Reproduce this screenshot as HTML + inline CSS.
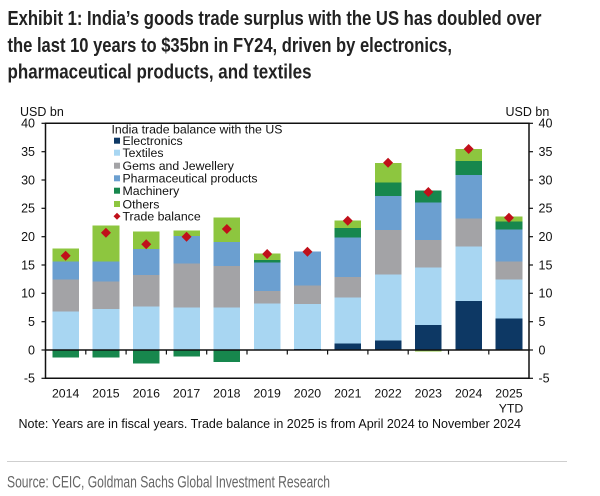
<!DOCTYPE html>
<html>
<head>
<meta charset="utf-8">
<style>
html,body{margin:0;padding:0;background:#fff;}
svg{display:block;}
text{font-family:"Liberation Sans",Arial,sans-serif;}
</style>
</head>
<body>
<svg width="600" height="496" viewBox="0 0 600 496" xmlns="http://www.w3.org/2000/svg">
<rect width="600" height="496" fill="#fff"/>
<!-- Title -->
<g fill="#222" font-weight="bold" font-size="20.5">
<text x="7.5" y="25" textLength="534" lengthAdjust="spacingAndGlyphs">Exhibit 1: India’s goods trade surplus with the US has doubled over</text>
<text x="7.5" y="52" textLength="444.5" lengthAdjust="spacingAndGlyphs">the last 10 years to $35bn in FY24, driven by electronics,</text>
<text x="7.5" y="78.5" textLength="304" lengthAdjust="spacingAndGlyphs">pharmaceutical products, and textiles</text>
</g>

<!-- Bars -->
<g shape-rendering="crispEdges">
<!-- 2014 -->
<rect x="52.35" y="311.7" width="26.6" height="38.3" fill="#a8d6f2"/>
<rect x="52.35" y="279.3" width="26.6" height="32.4" fill="#a3a3a6"/>
<rect x="52.35" y="261.7" width="26.6" height="17.6" fill="#6b9fd0"/>
<rect x="52.35" y="248.3" width="26.6" height="13.4" fill="#8dc63f"/>
<rect x="52.35" y="350" width="26.6" height="7.3" fill="#17874d"/>
<!-- 2015 -->
<rect x="92.65" y="309" width="26.6" height="41" fill="#a8d6f2"/>
<rect x="92.65" y="281.7" width="26.6" height="27.3" fill="#a3a3a6"/>
<rect x="92.65" y="261.7" width="26.6" height="20" fill="#6b9fd0"/>
<rect x="92.65" y="225.3" width="26.6" height="36.4" fill="#8dc63f"/>
<rect x="92.65" y="350" width="26.6" height="7.7" fill="#17874d"/>
<!-- 2016 -->
<rect x="132.95" y="306.7" width="26.6" height="43.3" fill="#a8d6f2"/>
<rect x="132.95" y="275" width="26.6" height="31.7" fill="#a3a3a6"/>
<rect x="132.95" y="249" width="26.6" height="26" fill="#6b9fd0"/>
<rect x="132.95" y="231.7" width="26.6" height="17.3" fill="#8dc63f"/>
<rect x="132.95" y="350" width="26.6" height="13.3" fill="#17874d"/>
<!-- 2017 -->
<rect x="173.25" y="307.3" width="26.6" height="42.7" fill="#a8d6f2"/>
<rect x="173.25" y="263.3" width="26.6" height="44" fill="#a3a3a6"/>
<rect x="173.25" y="236" width="26.6" height="27.3" fill="#6b9fd0"/>
<rect x="173.25" y="230.7" width="26.6" height="5.3" fill="#8dc63f"/>
<rect x="173.25" y="350" width="26.6" height="6.7" fill="#17874d"/>
<!-- 2018 -->
<rect x="213.55" y="307.3" width="26.6" height="42.7" fill="#a8d6f2"/>
<rect x="213.55" y="266" width="26.6" height="41.3" fill="#a3a3a6"/>
<rect x="213.55" y="242" width="26.6" height="24" fill="#6b9fd0"/>
<rect x="213.55" y="217.3" width="26.6" height="24.7" fill="#8dc63f"/>
<rect x="213.55" y="350" width="26.6" height="12" fill="#17874d"/>
<!-- 2019 -->
<rect x="253.85" y="303.3" width="26.6" height="46.7" fill="#a8d6f2"/>
<rect x="253.85" y="291" width="26.6" height="12.3" fill="#a3a3a6"/>
<rect x="253.85" y="262.7" width="26.6" height="28.3" fill="#6b9fd0"/>
<rect x="253.85" y="260" width="26.6" height="2.7" fill="#17874d"/>
<rect x="253.85" y="253.5" width="26.6" height="6.5" fill="#8dc63f"/>
<!-- 2020 -->
<rect x="294.15" y="348.8" width="26.6" height="1.2" fill="#0d3864"/>
<rect x="294.15" y="304" width="26.6" height="44.8" fill="#a8d6f2"/>
<rect x="294.15" y="285.7" width="26.6" height="18.3" fill="#a3a3a6"/>
<rect x="294.15" y="251.7" width="26.6" height="34" fill="#6b9fd0"/>
<!-- 2021 -->
<rect x="334.45" y="343.3" width="26.6" height="6.7" fill="#0d3864"/>
<rect x="334.45" y="297.7" width="26.6" height="45.6" fill="#a8d6f2"/>
<rect x="334.45" y="277" width="26.6" height="20.7" fill="#a3a3a6"/>
<rect x="334.45" y="237.7" width="26.6" height="39.3" fill="#6b9fd0"/>
<rect x="334.45" y="228" width="26.6" height="9.7" fill="#17874d"/>
<rect x="334.45" y="220.7" width="26.6" height="7.3" fill="#8dc63f"/>
<!-- 2022 -->
<rect x="374.75" y="340.7" width="26.6" height="9.3" fill="#0d3864"/>
<rect x="374.75" y="274.3" width="26.6" height="66.4" fill="#a8d6f2"/>
<rect x="374.75" y="230" width="26.6" height="44.3" fill="#a3a3a6"/>
<rect x="374.75" y="196" width="26.6" height="34" fill="#6b9fd0"/>
<rect x="374.75" y="182.3" width="26.6" height="13.7" fill="#17874d"/>
<rect x="374.75" y="163" width="26.6" height="19.3" fill="#8dc63f"/>
<!-- 2023 -->
<rect x="415.05" y="325" width="26.6" height="25" fill="#0d3864"/>
<rect x="415.05" y="267.7" width="26.6" height="57.3" fill="#a8d6f2"/>
<rect x="415.05" y="240" width="26.6" height="27.7" fill="#a3a3a6"/>
<rect x="415.05" y="202.7" width="26.6" height="37.3" fill="#6b9fd0"/>
<rect x="415.05" y="190.7" width="26.6" height="12" fill="#17874d"/>
<rect x="415.05" y="350" width="26.6" height="1.3" fill="#8dc63f"/>
<!-- 2024 -->
<rect x="455.35" y="301" width="26.6" height="49" fill="#0d3864"/>
<rect x="455.35" y="246.3" width="26.6" height="54.7" fill="#a8d6f2"/>
<rect x="455.35" y="218.7" width="26.6" height="27.6" fill="#a3a3a6"/>
<rect x="455.35" y="175" width="26.6" height="43.7" fill="#6b9fd0"/>
<rect x="455.35" y="161" width="26.6" height="14" fill="#17874d"/>
<rect x="455.35" y="149" width="26.6" height="12" fill="#8dc63f"/>
<!-- 2025 -->
<rect x="495.65" y="318.7" width="26.6" height="31.3" fill="#0d3864"/>
<rect x="495.65" y="279.3" width="26.6" height="39.4" fill="#a8d6f2"/>
<rect x="495.65" y="261.7" width="26.6" height="17.6" fill="#a3a3a6"/>
<rect x="495.65" y="229.3" width="26.6" height="32.4" fill="#6b9fd0"/>
<rect x="495.65" y="221.7" width="26.6" height="7.6" fill="#17874d"/>
<rect x="495.65" y="216.7" width="26.6" height="5" fill="#8dc63f"/>
</g>

<!-- Axes frame -->
<g stroke="#111" stroke-width="1.5" fill="none">
<line x1="45.5" y1="123.3" x2="529" y2="123.3"/>
<line x1="45.5" y1="378.3" x2="529" y2="378.3"/>
<line x1="45.5" y1="122.5" x2="45.5" y2="379"/>
<line x1="529" y1="122.5" x2="529" y2="379"/>
<line x1="45.5" y1="350" x2="529" y2="350"/>
</g>
<!-- y ticks -->
<g stroke="#111" stroke-width="1.2">
<line x1="41.5" y1="123.3" x2="45.5" y2="123.3"/><line x1="529" y1="123.3" x2="533" y2="123.3"/>
<line x1="41.5" y1="151.7" x2="45.5" y2="151.7"/><line x1="529" y1="151.7" x2="533" y2="151.7"/>
<line x1="41.5" y1="180" x2="45.5" y2="180"/><line x1="529" y1="180" x2="533" y2="180"/>
<line x1="41.5" y1="208.3" x2="45.5" y2="208.3"/><line x1="529" y1="208.3" x2="533" y2="208.3"/>
<line x1="41.5" y1="236.7" x2="45.5" y2="236.7"/><line x1="529" y1="236.7" x2="533" y2="236.7"/>
<line x1="41.5" y1="265" x2="45.5" y2="265"/><line x1="529" y1="265" x2="533" y2="265"/>
<line x1="41.5" y1="293.3" x2="45.5" y2="293.3"/><line x1="529" y1="293.3" x2="533" y2="293.3"/>
<line x1="41.5" y1="321.7" x2="45.5" y2="321.7"/><line x1="529" y1="321.7" x2="533" y2="321.7"/>
<line x1="41.5" y1="350" x2="45.5" y2="350"/><line x1="529" y1="350" x2="533" y2="350"/>
<line x1="41.5" y1="378.3" x2="45.5" y2="378.3"/><line x1="529" y1="378.3" x2="533" y2="378.3"/>
<!-- x ticks -->
<line x1="85.8" y1="350" x2="85.8" y2="354.5"/>
<line x1="126.1" y1="350" x2="126.1" y2="354.5"/>
<line x1="166.4" y1="350" x2="166.4" y2="354.5"/>
<line x1="206.7" y1="350" x2="206.7" y2="354.5"/>
<line x1="247" y1="350" x2="247" y2="354.5"/>
<line x1="287.3" y1="350" x2="287.3" y2="354.5"/>
<line x1="327.6" y1="350" x2="327.6" y2="354.5"/>
<line x1="367.9" y1="350" x2="367.9" y2="354.5"/>
<line x1="408.2" y1="350" x2="408.2" y2="354.5"/>
<line x1="448.5" y1="350" x2="448.5" y2="354.5"/>
<line x1="488.8" y1="350" x2="488.8" y2="354.5"/>
</g>

<!-- Trade balance diamonds -->
<g fill="#c0101a">
<path d="M65.65 250.7 L70.65 255.7 L65.65 260.7 L60.65 255.7Z"/>
<path d="M105.95 227.7 L110.95 232.7 L105.95 237.7 L100.95 232.7Z"/>
<path d="M146.25 239.3 L151.25 244.3 L146.25 249.3 L141.25 244.3Z"/>
<path d="M186.55 231.7 L191.55 236.7 L186.55 241.7 L181.55 236.7Z"/>
<path d="M226.85 224 L231.85 229 L226.85 234 L221.85 229Z"/>
<path d="M267.15 249 L272.15 254 L267.15 259 L262.15 254Z"/>
<path d="M307.45 246.7 L312.45 251.7 L307.45 256.7 L302.45 251.7Z"/>
<path d="M347.75 215.7 L352.75 220.7 L347.75 225.7 L342.75 220.7Z"/>
<path d="M388.05 157.7 L393.05 162.7 L388.05 167.7 L383.05 162.7Z"/>
<path d="M428.35 187 L433.35 192 L428.35 197 L423.35 192Z"/>
<path d="M468.65 144 L473.65 149 L468.65 154 L463.65 149Z"/>
<path d="M508.95 212.7 L513.95 217.7 L508.95 222.7 L503.95 217.7Z"/>
</g>

<!-- Y labels -->
<g fill="#111" font-size="12.5">
<text x="20" y="116">USD bn</text>
<text x="505.5" y="116">USD bn</text>
</g>
<g fill="#111" font-size="12.5" text-anchor="end">
<text x="35" y="127.6">40</text>
<text x="35" y="156">35</text>
<text x="35" y="184.3">30</text>
<text x="35" y="212.6">25</text>
<text x="35" y="241">20</text>
<text x="35" y="269.3">15</text>
<text x="35" y="297.6">10</text>
<text x="35" y="326">5</text>
<text x="35" y="354.3">0</text>
<text x="35" y="382.6">-5</text>
</g>
<g fill="#111" font-size="12.5">
<text x="538.5" y="127.6">40</text>
<text x="538.5" y="156">35</text>
<text x="538.5" y="184.3">30</text>
<text x="538.5" y="212.6">25</text>
<text x="538.5" y="241">20</text>
<text x="538.5" y="269.3">15</text>
<text x="538.5" y="297.6">10</text>
<text x="538.5" y="326">5</text>
<text x="538.5" y="354.3">0</text>
<text x="538.5" y="382.6">-5</text>
</g>
<!-- X labels -->
<g fill="#111" font-size="12.3" text-anchor="middle">
<text x="65.65" y="397.5">2014</text>
<text x="105.95" y="397.5">2015</text>
<text x="146.25" y="397.5">2016</text>
<text x="186.55" y="397.5">2017</text>
<text x="226.85" y="397.5">2018</text>
<text x="267.15" y="397.5">2019</text>
<text x="307.45" y="397.5">2020</text>
<text x="347.75" y="397.5">2021</text>
<text x="388.05" y="397.5">2022</text>
<text x="428.35" y="397.5">2023</text>
<text x="468.65" y="397.5">2024</text>
<text x="508.95" y="397.5">2025</text>
<text x="511" y="412.7">YTD</text>
</g>

<!-- Legend -->
<g font-size="12.3" fill="#111">
<text x="111.5" y="133.5">India trade balance with the US</text>
<rect x="114" y="137.7" width="6" height="6" fill="#0d3864"/>
<text x="122.5" y="145">Electronics</text>
<rect x="114" y="149.7" width="6" height="6" fill="#a8d6f2"/>
<text x="122.5" y="157">Textiles</text>
<rect x="114" y="162.7" width="6" height="6" fill="#a3a3a6"/>
<text x="122.5" y="170">Gems and Jewellery</text>
<rect x="114" y="175.3" width="6" height="6" fill="#6b9fd0"/>
<text x="122.5" y="182.6" textLength="135" lengthAdjust="spacingAndGlyphs">Pharmaceutical products</text>
<rect x="114" y="187.7" width="6" height="6" fill="#17874d"/>
<text x="122.5" y="195">Machinery</text>
<rect x="114" y="201" width="6" height="6" fill="#8dc63f"/>
<text x="122.5" y="208.3">Others</text>
<path d="M117 212.8 L120.5 216.3 L117 219.8 L113.5 216.3Z" fill="#c0101a"/>
<text x="122.5" y="220.6">Trade balance</text>
</g>

<!-- Note -->
<text x="18.5" y="428" font-size="12.5" fill="#111" textLength="502.5" lengthAdjust="spacingAndGlyphs">Note: Years are in fiscal years. Trade balance in 2025 is from April 2024 to November 2024</text>

<line x1="7" y1="461.5" x2="567" y2="461.5" stroke="#cfcfcf" stroke-width="1"/>
<text x="7" y="487.7" font-size="17" fill="#666" textLength="323" lengthAdjust="spacingAndGlyphs">Source: CEIC, Goldman Sachs Global Investment Research</text>
</svg>
</body>
</html>
